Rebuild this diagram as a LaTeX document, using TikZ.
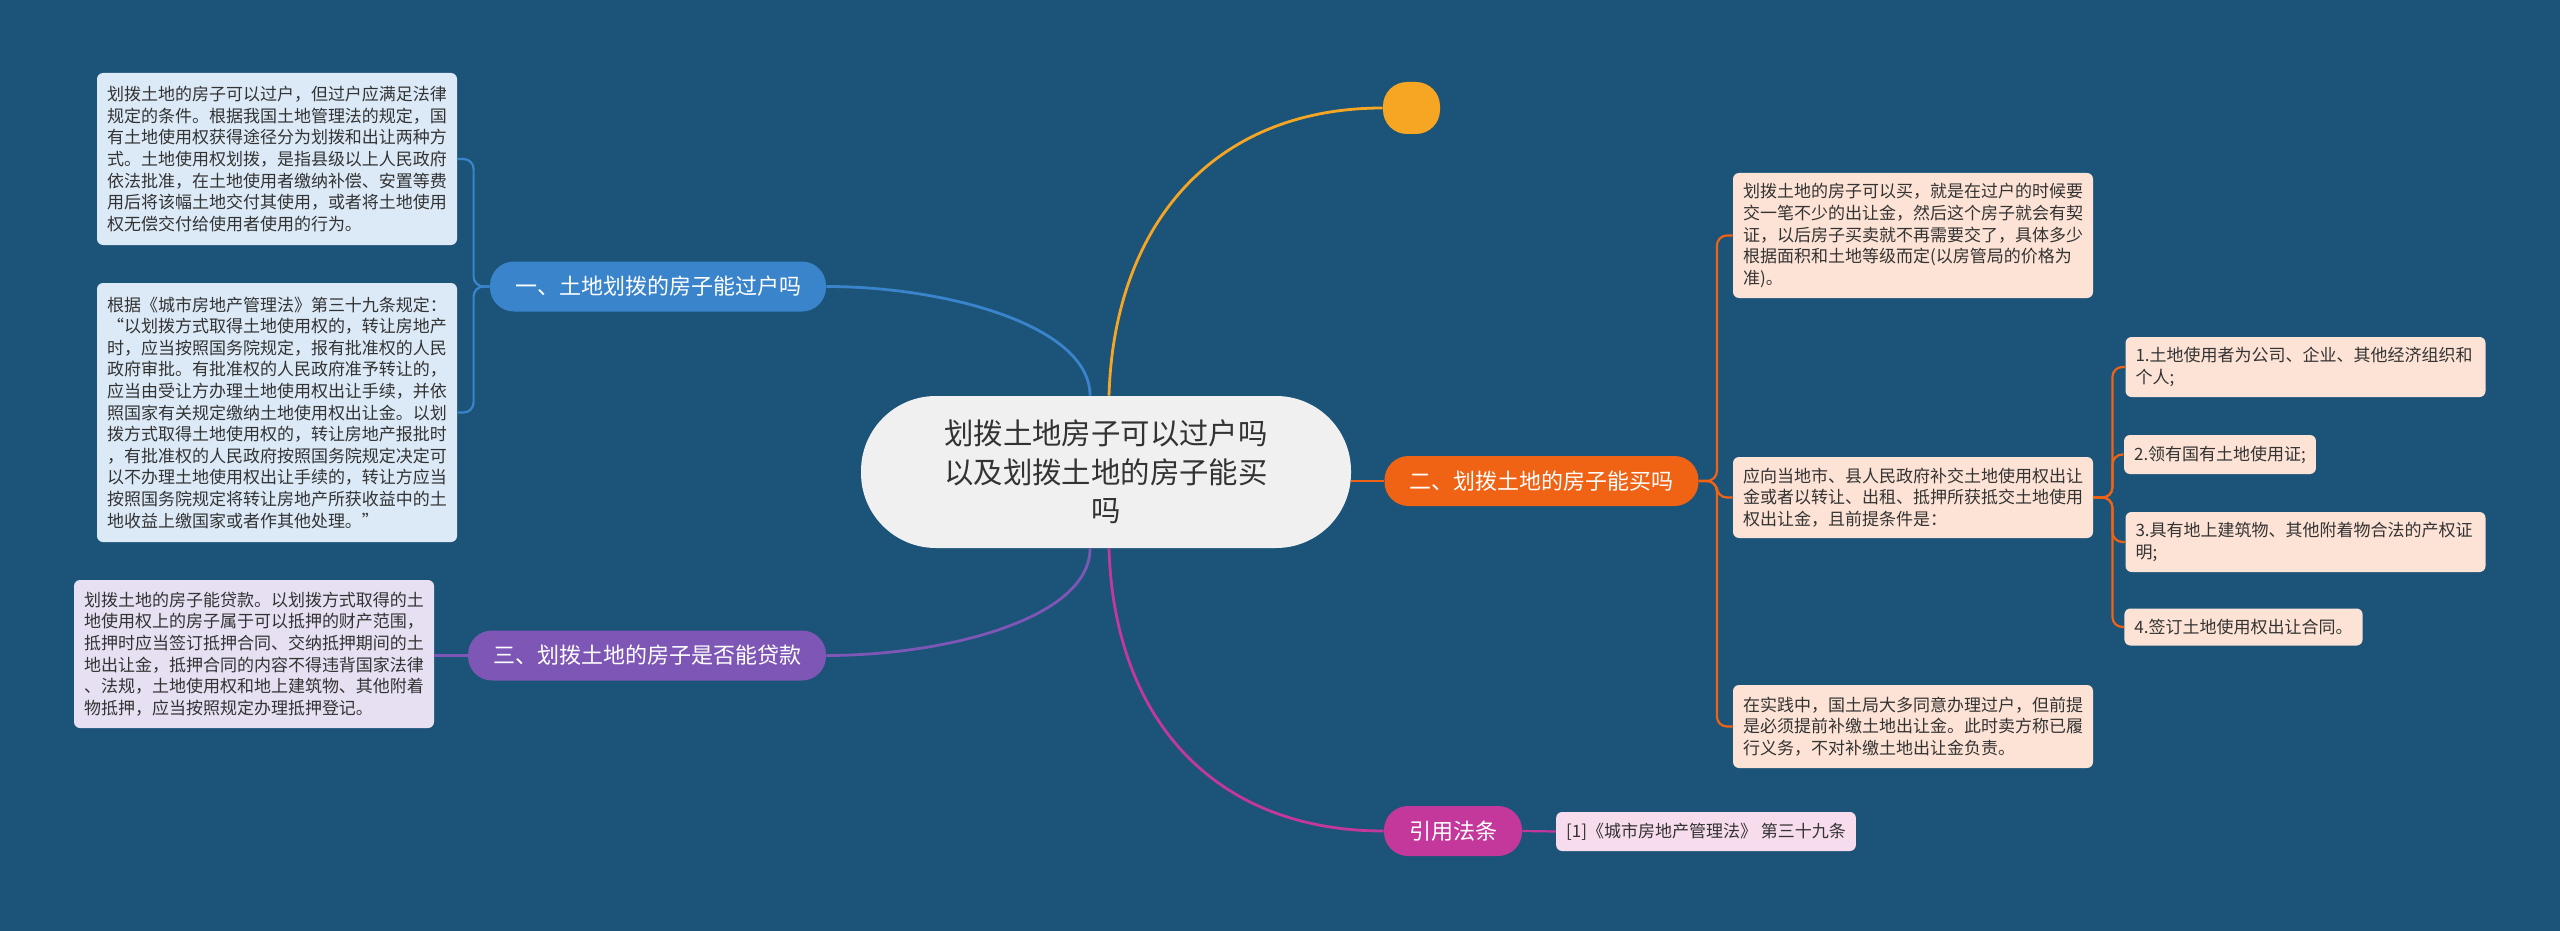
\documentclass[tikz,border=0pt]{standalone}
\usepackage{xcolor}
\usepackage{fontspec}
\setmainfont{Noto Sans CJK SC}
\usepackage{tikz}
\usetikzlibrary{calc}
\usetikzlibrary{positioning}
\definecolor{bg}{RGB}{27,84,120}
\definecolor{cblue}{RGB}{58,132,204}
\definecolor{corange}{RGB}{240,98,20}
\definecolor{cpurple}{RGB}{126,87,182}
\definecolor{cpink}{RGB}{196,56,155}
\definecolor{cyellow}{RGB}{247,166,35}
\definecolor{lblue}{RGB}{220,234,247}
\definecolor{lpurple}{RGB}{230,224,242}
\definecolor{lorange}{RGB}{253,227,213}
\definecolor{lpink}{RGB}{247,220,238}
\definecolor{ink}{RGB}{51,51,51}
\tikzstyle{root} = [draw = none, fill = gray!12, text = ink, rounded corners = 37.5pt, align = center, font = \fontsize{14.7pt}{19.3pt}\selectfont, minimum width = 245pt, minimum height = 76pt]
\tikzstyle{topic} = [draw = none, text = white, rounded corners = 12pt, inner xsep = 12.5pt, minimum height = 25pt, font = \fontsize{11pt}{13pt}\selectfont]
\tikzstyle{leaf} = [draw = none, text = ink, rounded corners = 3pt, inner xsep = 5pt, inner ysep = 3pt, align = left, font = \fontsize{8.5pt}{10.8pt}\selectfont]
\tikzstyle{wide} = [text width = 170pt]
\tikzstyle{link} = [line width = 1.4pt]
\tikzstyle{twig} = [line width = 1.1pt, rounded corners = 5pt]

\begin{document}
\begin{tikzpicture}[x = 0.5pt, y = -0.5pt]
\fill [bg] (0, 0) rectangle (2560, 931);
% centre and main branches
\node [root] (R) at (1106, 472) {划拨土地房子可以过户吗\\以及划拨土地的房子能买\\吗};
\node [draw = none, fill = cyellow, rounded corners = 12pt, inner sep = 0, minimum width = 28.5pt, minimum height = 26pt] (D) at (1411.5, 108) {};
\node [topic, fill = cblue] (B1) at (658, 286.5) {一、土地划拨的房子能过户吗};
\node [topic, fill = corange] (B2) at (1541.5, 481) {二、划拨土地的房子能买吗};
\node [topic, fill = cpurple] (B3) at (647, 655.5) {三、划拨土地的房子是否能贷款};
\node [topic, fill = cpink] (B4) at (1453, 831) {引用法条};
% left side
\node [leaf, wide, fill = lblue, minimum height = 86pt] (L1) at (277, 159) {划拨土地的房子可以过户，但过户应满足法律\\规定的条件。根据我国土地管理法的规定，国\\有土地使用权获得途径分为划拨和出让两种方\\式。土地使用权划拨，是指县级以上人民政府\\依法批准，在土地使用者缴纳补偿、安置等费\\用后将该幅土地交付其使用，或者将土地使用\\权无偿交付给使用者使用的行为。};
\node [leaf, wide, fill = lblue, minimum height = 129.5pt] (L2) at (277, 412.5) {根据《城市房地产管理法》第三十九条规定：\\“以划拨方式取得土地使用权的，转让房地产\\时，应当按照国务院规定，报有批准权的人民\\政府审批。有批准权的人民政府准予转让的，\\应当由受让方办理土地使用权出让手续，并依\\照国家有关规定缴纳土地使用权出让金。以划\\拨方式取得土地使用权的，转让房地产报批时\\，有批准权的人民政府按照国务院规定决定可\\以不办理土地使用权出让手续的，转让方应当\\按照国务院规定将转让房地产所获收益中的土\\地收益上缴国家或者作其他处理。”};
\node [leaf, wide, fill = lpurple, minimum height = 74pt] (L3) at (254, 654) {划拨土地的房子能贷款。以划拨方式取得的土\\地使用权上的房子属于可以抵押的财产范围，\\抵押时应当签订抵押合同、交纳抵押期间的土\\地出让金，抵押合同的内容不得违背国家法律\\、法规，土地使用权和地上建筑物、其他附着\\物抵押，应当按照规定办理抵押登记。};
% right side
\node [leaf, wide, fill = lorange, minimum height = 62.5pt] (R1) at (1913, 235.5) {划拨土地的房子可以买，就是在过户的时候要\\交一笔不少的出让金，然后这个房子就会有契\\证，以后房子买卖就不再需要交了，具体多少\\根据面积和土地等级而定(以房管局的价格为\\准)。};
\node [leaf, wide, fill = lorange, minimum height = 40.5pt] (R2) at (1913, 497.5) {应向当地市、县人民政府补交土地使用权出让\\金或者以转让、出租、抵押所获抵交土地使用\\权出让金，且前提条件是：};
\node [leaf, wide, fill = lorange, minimum height = 41.5pt] (R3) at (1913, 726.5) {在实践中，国土局大多同意办理过户，但前提\\是必须提前补缴土地出让金。此时卖方称已履\\行义务，不对补缴土地出让金负责。};
\node [leaf, wide, fill = lorange, minimum height = 30pt] (S1) at (2305.5, 367) {1.土地使用者为公司、企业、其他经济组织和\\个人;};
\node [leaf, fill = lorange, minimum height = 19.5pt] (S2) at (2220, 454.5) {2.领有国有土地使用证;};
\node [leaf, wide, fill = lorange, minimum height = 30pt] (S3) at (2305.5, 542) {3.具有地上建筑物、其他附着物合法的产权证\\明;};
\node [leaf, fill = lorange, minimum height = 18.5pt] (S4) at (2243.5, 627) {4.签订土地使用权出让合同。};
\node [leaf, fill = lpink, minimum height = 19.5pt] (C1) at (1706, 831.5) {[1]《城市房地产管理法》 第三十九条};
% connectors
\draw [link, draw = cblue] ([xshift = -8pt] R.north) .. controls +(0, -70) and +(120, 0) .. (B1.east);
\draw [link, draw = cyellow] ([xshift = 1.5pt] R.north) .. controls +(5, -170) and +(-170, 0) .. (D.west);
\draw [link, draw = corange] (B2.west -| R.east) -- (B2.west);
\draw [link, draw = cpurple] ([xshift = -8pt] R.south) .. controls +(0, 70) and +(120, 0) .. (B3.east);
\draw [link, draw = cpink] ([xshift = 1.5pt] R.south) .. controls +(5, 170) and +(-170, 0) .. (B4.west);
\draw [twig, draw = cblue] (B1.west) -- ++(-16, 0) |- (L1.east);
\draw [twig, draw = cblue] (B1.west) -- ++(-16, 0) |- (L2.east);
\draw [twig, draw = cpurple] (B3.west) -- (B3.west -| L3.east);
\draw [twig, draw = corange] (B2.east) -- ++(18, 0) |- (R1.west);
\draw [twig, draw = corange] (B2.east) -- ++(18, 0) |- (R2.west);
\draw [twig, draw = corange] (B2.east) -- ++(18, 0) |- (R3.west);
\draw [twig, draw = corange] (R2.east) -- ++(19, 0) |- (S1.west);
\draw [twig, draw = corange] (R2.east) -- ++(19, 0) |- (S2.west);
\draw [twig, draw = corange] (R2.east) -- ++(19, 0) |- (S3.west);
\draw [twig, draw = corange] (R2.east) -- ++(19, 0) |- (S4.west);
\draw [twig, draw = cpink] (B4.east) -- (C1.west);
\end{tikzpicture}
\end{document}
